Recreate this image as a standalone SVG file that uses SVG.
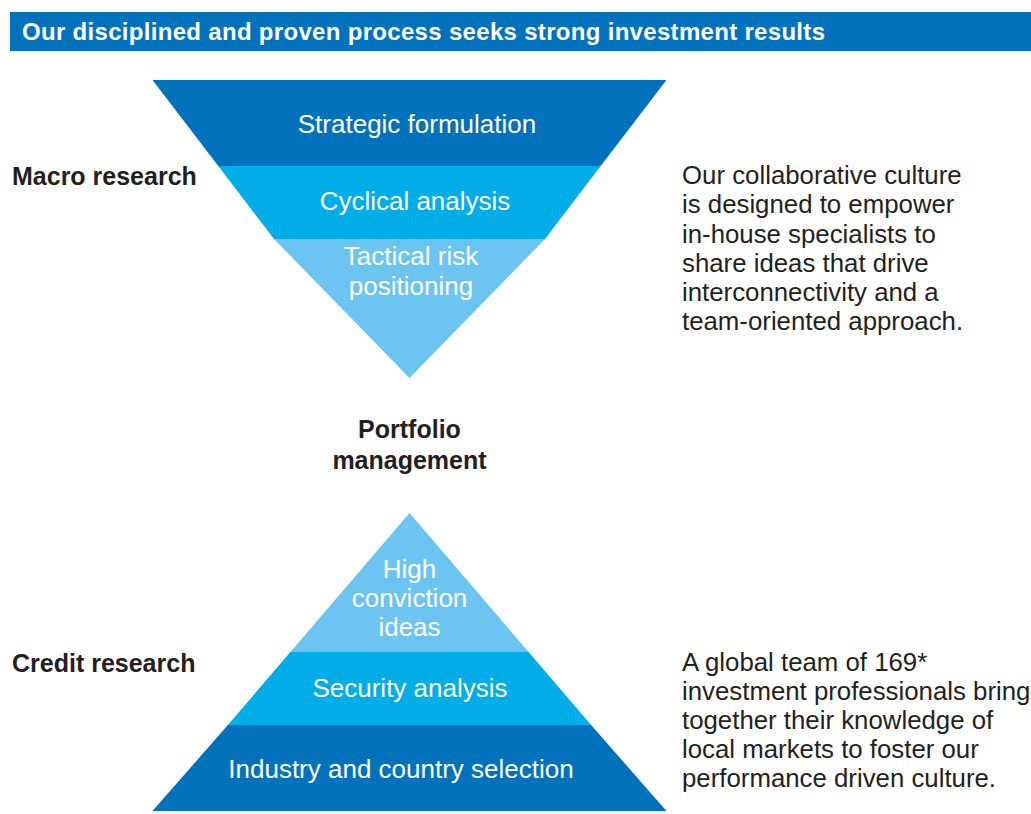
<svg xmlns="http://www.w3.org/2000/svg" width="1031" height="814" viewBox="0 0 1031 814">
<style>
.hd{font-family:"Liberation Sans",Arial,sans-serif;font-weight:bold;font-size:24px;fill:#ffffff}
.lb{font-family:"Liberation Sans",Arial,sans-serif;font-weight:bold;font-size:25px;fill:#231f20}
.in{font-family:"Liberation Sans",Arial,sans-serif;font-size:26px;fill:#ffffff;text-anchor:middle}
.tx{font-family:"Liberation Sans",Arial,sans-serif;font-size:25.8px;fill:#231f20}
.dark{fill:#0072bc}.mid{fill:#00ade7}.light{fill:#6cc5f0}
</style>
<rect width="1031" height="814" fill="#ffffff"/>
<g id="header">
<rect x="10" y="12" width="1021" height="39" fill="#0072bc"/>
<text class="hd" x="22" y="40" textLength="803">Our disciplined and proven process seeks strong investment results</text>
</g>
<g id="macro-label"><text class="lb" x="12" y="185">Macro research</text></g>
<g id="credit-label"><text class="lb" x="12" y="672">Credit research</text></g>
<g id="portfolio-label">
<text class="lb" x="409.5" y="438" text-anchor="middle">Portfolio</text>
<text class="lb" x="409.5" y="469" text-anchor="middle">management</text>
</g>
<g id="macro-funnel">
<g id="strategic"><polygon class="dark" points="152.5,80 666.5,80 600.7,166 218.3,166"/><text class="in" x="417" y="133">Strategic formulation</text></g>
<g id="cyclical"><polygon class="mid" points="218.3,166 600.7,166 545,239 274,239"/><text class="in" x="415" y="210">Cyclical analysis</text></g>
<g id="tactical"><polygon class="light" points="274,239 545,239 409.5,378"/><text class="in" x="411" y="265">Tactical risk</text><text class="in" x="411" y="295">positioning</text></g>
</g>
<g id="credit-pyramid">
<g id="conviction"><polygon class="light" points="409.5,513 528.6,652 290.4,652"/><text class="in" x="409.5" y="578">High</text><text class="in" x="409.5" y="607">conviction</text><text class="in" x="409.5" y="636">ideas</text></g>
<g id="security"><polygon class="mid" points="290.4,652 528.6,652 591.1,725 227.9,725"/><text class="in" x="410" y="697">Security analysis</text></g>
<g id="industry"><polygon class="dark" points="227.9,725 591.1,725 666.5,811 152.5,811"/><text class="in" x="401" y="778">Industry and country selection</text></g>
</g>
<g id="culture-text">
<text class="tx" x="682" y="184">Our collaborative culture</text>
<text class="tx" x="682" y="213">is designed to empower</text>
<text class="tx" x="682" y="243">in-house specialists to</text>
<text class="tx" x="682" y="272">share ideas that drive</text>
<text class="tx" x="682" y="301">interconnectivity and a</text>
<text class="tx" x="682" y="330">team-oriented approach.</text>
</g>
<g id="team-text">
<text class="tx" x="682" y="671">A global team of 169*</text>
<text class="tx" x="682" y="700">investment professionals bring</text>
<text class="tx" x="682" y="729">together their knowledge of</text>
<text class="tx" x="682" y="758">local markets to foster our</text>
<text class="tx" x="682" y="787">performance driven culture.</text>
</g>
<g id="connectors"></g>
</svg>
